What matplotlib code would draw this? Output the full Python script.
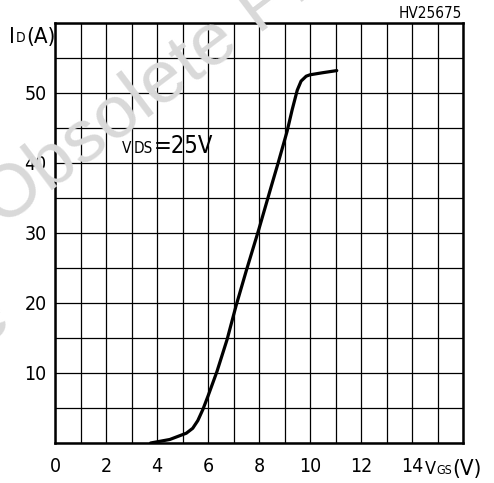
import matplotlib
matplotlib.use("Agg")
import matplotlib.pyplot as plt
import matplotlib.transforms as mtransforms

plt.rcParams["font.family"] = ["DejaVu Sans"]
plt.rcParams["font.stretch"] = "condensed"

# transfer characteristic
vgs = [3.75, 4.5, 5.15, 5.4, 5.6, 5.8, 6.0, 6.35, 6.75, 7.1, 7.5, 8.0, 8.5, 8.75,
       9.1, 9.3, 9.5, 9.65, 9.85, 10.0, 10.5, 11.05]
id_a = [0.0, 0.5, 1.4, 2.1, 3.2, 4.8, 6.7, 10.2, 14.8, 19.6, 24.6, 30.6, 36.9, 40.0,
        44.5, 47.6, 50.4, 51.7, 52.4, 52.6, 52.9, 53.2]

x_grid = list(range(0, 17))
x_labels = ["0", "", "2", "", "4", "", "6", "", "8", "", "10", "", "12", "", "14", "", ""]
y_grid = list(range(0, 61, 5))
y_labels = ["", "", "10", "", "20", "", "30", "", "40", "", "50", "", ""]

W, H = 494, 483
fig = plt.figure(figsize=(W / 100, H / 100), dpi=100)
ax = fig.add_axes([55 / W, 1 - 443 / H, 408 / W, 420 / H])

ax.plot(vgs, id_a, color="black", lw=2.3, solid_capstyle="round",
        solid_joinstyle="round", zorder=3)

ax.set_xlim(0, 16)
ax.set_ylim(0, 60)
ax.set_xticks(x_grid)
ax.set_xticklabels(x_labels)
ax.set_yticks(y_grid)
ax.set_yticklabels(y_labels)
ax.tick_params(length=0, labelsize=14)
ax.tick_params(axis="x", pad=10)
ax.tick_params(axis="y", pad=6)
ax.grid(True, color="black", lw=0.9)
for s in ax.spines.values():
    s.set_linewidth(1.8)

# axis titles built from pieces (big letter + small subscript letters)
t = fig.text(9 / W, 1 - 43 / H, "I", fontsize=16, va="baseline")
t = ax.annotate("D", xy=(1, 0), xycoords=t, fontsize=10, va="bottom",
                xytext=(0.5, 1.5), textcoords="offset points")
ax.annotate("(A)", xy=(1, 0), xycoords=t, fontsize=16, va="bottom",
            xytext=(0.5, -1.5), textcoords="offset points")

tr = mtransforms.blended_transform_factory(ax.transData, fig.transFigure)
t = ax.text(14.5, 1 - 474 / H, "V", fontsize=13, va="baseline", transform=tr)
t = ax.annotate("GS", xy=(1, 0), xycoords=t, fontsize=9, va="bottom",
                xytext=(0, 1.0), textcoords="offset points")
ax.annotate("(V)", xy=(1, 0), xycoords=t, fontsize=16, va="bottom",
            xytext=(0.8, -1.8), textcoords="offset points")

t = fig.text(122 / W, 1 - 153 / H, "V", fontsize=11, va="baseline")
t = ax.annotate("DS", xy=(1, 0), xycoords=t, fontsize=11, va="bottom",
                xytext=(1.5, 0), textcoords="offset points")
ax.annotate("=25V", xy=(1, 0), xycoords=t, fontsize=17, va="bottom",
            xytext=(0.5, -1.3), textcoords="offset points")

fig.text(462 / W, 1 - 18 / H, "HV25675", fontsize=11, ha="right", va="baseline")

# watermark, drawn above everything
wm = dict(fontsize=54, color="#d9d9d9", rotation=37, rotation_mode="anchor",
          va="baseline", family=["Liberation Sans", "DejaVu Sans"],
          stretch="normal", zorder=10)
fig.text(2 / W, 1 - 228 / H, "Obsolete Product(s)", ha="left", **wm)
fig.text(14 / W, 1 - 322 / H, "Obsolete", ha="right", **wm)

fig.savefig("out.png", dpi=100, facecolor="white")
